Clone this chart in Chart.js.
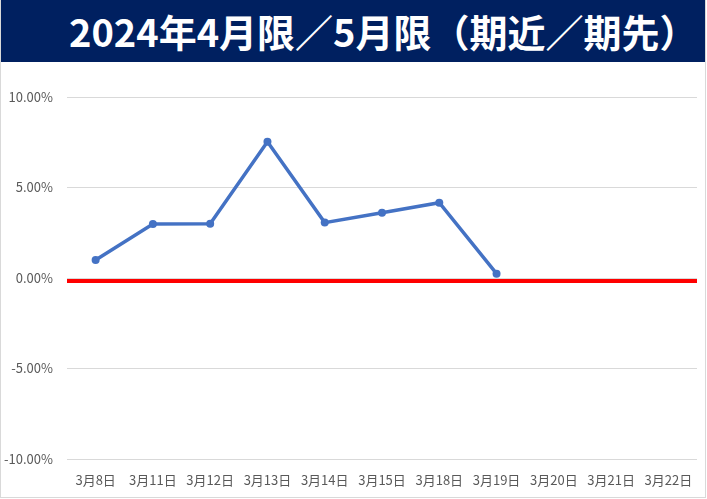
<!DOCTYPE html>
<html lang="ja">
<head>
<meta charset="UTF-8">
<title>2024年4月限／5月限（期近／期先）</title>
<script src="https://cdn.jsdelivr.net/npm/chart.js@4/dist/chart.umd.min.js"></script>
<style>
  html, body { margin: 0; padding: 0; background: #fff; }
  #wrap { position: relative; width: 706px; height: 498px; border-left: 1px solid #d9d9d9; border-right: 1px solid #d9d9d9; border-bottom: 1px solid #d9d9d9; box-sizing: border-box; }
  #title {
    position: absolute; left: 0; top: 0; width: 704px; height: 62px;
    background: #002060; color: #fff; box-sizing: border-box; padding-left: 68px;
    font-family: "Noto Sans CJK JP", sans-serif; font-weight: bold; font-size: 38px;
    line-height: 62px; text-align: left;
  }
  #box { position: absolute; left: -1px; top: 62px; width: 707px; height: 437px; }
</style>
</head>
<body>
<div id="wrap">
  <div id="title">2024年4月限／5月限（期近／期先）</div>
  <div id="box"><canvas id="chart" width="707" height="437"></canvas></div>
</div>
<script>
const labels = ['3月8日', '3月11日', '3月12日', '3月13日', '3月14日', '3月15日', '3月18日', '3月19日', '3月20日', '3月21日', '3月22日'];
const spread = [1.0, 2.98, 3.0, 7.53, 3.06, 3.61, 4.16, 0.24, null, null, null];
const yTicks = [-10, -5, 0, 5, 10];
const zeroValue = 0;

// red zero axis line drawn a bit under the gridline, like the Excel original
const zeroLine = {
  id: 'zeroLine',
  beforeDatasetsDraw(chart) {
    const { ctx, chartArea, scales } = chart;
    const y = scales.y.getPixelForValue(zeroValue) + 3;
    ctx.save();
    ctx.strokeStyle = '#ff0000';
    ctx.lineWidth = 4;
    ctx.beginPath();
    ctx.moveTo(chartArea.left, y);
    ctx.lineTo(chartArea.right, y);
    ctx.stroke();
    ctx.restore();
  }
};

const ctx = document.getElementById('chart').getContext('2d');
new Chart(ctx, {
  type: 'line',
  data: {
    labels: labels,
    datasets: [{
      data: spread,
      borderColor: '#4472c4',
      backgroundColor: '#4472c4',
      borderWidth: 3.5,
      pointRadius: 4,
      pointBorderWidth: 0,
      tension: 0,
      spanGaps: false
    }]
  },
  plugins: [zeroLine],
  options: {
    responsive: false,
    animation: false,
    layout: { padding: { top: 35, right: 10, left: 0, bottom: 0 } },
    plugins: { legend: { display: false }, tooltip: { enabled: false } },
    scales: {
      x: {
        offset: true,
        grid: { display: false, drawTicks: false },
        border: { display: false },
        ticks: { color: '#595959', font: { family: 'Noto Sans CJK JP', size: 13 }, maxRotation: 0, autoSkip: false, padding: 13 },
        afterFit: s => { s.height = 40; }
      },
      y: {
        min: -10, max: 10,
        afterBuildTicks: s => { s.ticks = yTicks.map(v => ({ value: v })); },
        grid: { drawTicks: false, color: '#d9d9d9', lineWidth: 1 },
        border: { display: false },
        ticks: {
          color: '#595959', font: { family: 'Noto Sans CJK JP', size: 13 }, padding: 14,
          callback: v => v.toFixed(2) + '%'
        },
        afterFit: s => { s.width = 67; }
      }
    }
  }
});
</script>
</body>
</html>
